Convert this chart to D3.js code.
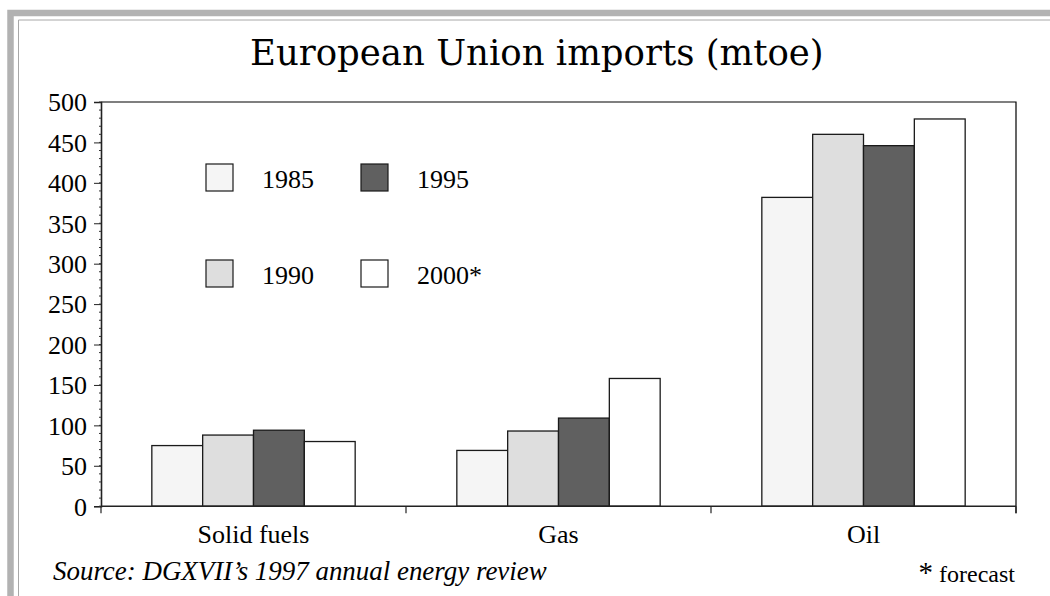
<!DOCTYPE html>
<html>
<head>
<meta charset="utf-8">
<script src="https://cdn.jsdelivr.net/npm/d3@7"></script>
<style>
    body { margin: 0; background: #fff; }
    svg { display: block; }
    text { fill: #000; }
</style>
</head>
<body>
<div id="chart"></div>
<script>
const categories = ["Solid fuels", "Gas", "Oil"];
const years = ["1985", "1990", "1995", "2000*"];
const values1985 = [75, 69, 382];
const values1990 = [88, 93, 460];
const values1995 = [94, 109, 446];
const values2000 = [80, 158, 479];
const yTicks = [0, 50, 100, 150, 200, 250, 300, 350, 400, 450, 500];

const series = [values1985, values1990, values1995, values2000];
const fills = ["#f5f5f5", "#dedede", "#606060", "#ffffff"];
const serif = '"Liberation Serif", "Times New Roman", serif';

const width = 1050;
const height = 596;
const margin = {top: 102, right: 34, bottom: 90, left: 101};

const svg = d3.select("#chart")
    .append("svg")
    .attr("width", width)
    .attr("height", height);

// grey page frame, open on the right and bottom
svg.append("path")
    .attr("d", `M10.5,${height} V13 H${width}`)
    .attr("fill", "none")
    .attr("stroke", "#b2b2b2")
    .attr("stroke-width", 6.5);
svg.append("path")
    .attr("d", `M18.5,${height} V20 H${width}`)
    .attr("fill", "none")
    .attr("stroke", "#a8a8a8")
    .attr("stroke-width", 1);

// shrink or grow a text until it spans the width seen in the reference
function fitWidth(sel, size, target) {
    const w = sel.node().getComputedTextLength();
    sel.style("font-size", (size * target / w) + "px");
}

const x0 = d3.scaleBand()
    .domain(categories)
    .range([margin.left, width - margin.right]);

const x1 = d3.scaleBand()
    .domain(years)
    .range([0, x0.bandwidth()])
    .paddingOuter(1);

const y = d3.scaleLinear()
    .domain([0, 500])
    .range([height - margin.bottom + 0.2, margin.top]);

const yMinor = d3.range(0, 501, 10);

// plot frame (top and right)
svg.append("path")
    .attr("d", `M${x0.range()[0]},${y(500)} H${x0.range()[1]} V${y(0) + 7}`)
    .attr("fill", "none")
    .attr("stroke", "#000")
    .attr("stroke-width", 1.2);

const yAxis = svg.append("g")
    .attr("transform", `translate(${margin.left},0)`)
    .call(d3.axisLeft(y).tickValues(yTicks).tickSize(7).tickPadding(7));
yAxis.select(".domain").attr("stroke", "#222").attr("stroke-width", 1.6);
yAxis.selectAll(".tick line").attr("stroke", "#222");
yAxis.selectAll(".tick text")
    .style("font-family", serif)
    .style("font-size", "26px")
    .attr("dy", "0.34em");

yAxis.selectAll(".minor")
    .data(yMinor)
    .enter()
    .append("line")
    .attr("class", "minor")
    .attr("x1", -2)
    .attr("x2", 0)
    .attr("y1", d => y(d))
    .attr("y2", d => y(d))
    .attr("stroke", "#333")
    .attr("stroke-width", 1);

const groups = svg.selectAll(".group")
    .data(categories)
    .enter()
    .append("g")
    .attr("class", "group")
    .attr("transform", d => `translate(${x0(d)},0)`);

groups.selectAll("rect")
    .data((c, i) => years.map((yr, j) => ({year: yr, value: series[j][i], k: j})))
    .enter()
    .append("rect")
    .attr("x", d => x1(d.year))
    .attr("y", d => y(d.value))
    .attr("width", x1.bandwidth())
    .attr("height", d => y(0) - y(d.value))
    .attr("fill", d => fills[d.k])
    .attr("stroke", "#1a1a1a")
    .attr("stroke-width", 1.3);

// x axis line and category boundary ticks
const xAxis = svg.append("g");
xAxis.append("line")
    .attr("x1", x0.range()[0])
    .attr("x2", x0.range()[1])
    .attr("y1", y(0))
    .attr("y2", y(0))
    .attr("stroke", "#222")
    .attr("stroke-width", 1.6);
xAxis.selectAll(".bound")
    .data(categories.map(c => x0(c)).concat([x0.range()[1]]))
    .enter()
    .append("line")
    .attr("class", "bound")
    .attr("x1", d => d)
    .attr("x2", d => d)
    .attr("y1", y(0))
    .attr("y2", y(0) + 7)
    .attr("stroke", "#222")
    .attr("stroke-width", 1.2);
xAxis.selectAll(".cat")
    .data(categories)
    .enter()
    .append("text")
    .attr("class", "cat")
    .attr("x", d => x0(d) + x0.bandwidth() / 2)
    .attr("y", 543)
    .attr("text-anchor", "middle")
    .style("font-family", serif)
    .style("font-size", "26px")
    .text(d => d);

// legend, two columns
const legend = svg.append("g");
const legendPos = [[206, 164], [206, 260], [361, 164], [361, 260]];
years.forEach((yr, i) => {
    const [lx, ly] = legendPos[i];
    legend.append("rect")
        .attr("x", lx)
        .attr("y", ly)
        .attr("width", 27)
        .attr("height", 27)
        .attr("fill", fills[i])
        .attr("stroke", "#1a1a1a")
        .attr("stroke-width", 1.2);
    legend.append("text")
        .attr("x", lx + 56)
        .attr("y", ly + 24)
        .style("font-family", serif)
        .style("font-size", "26px")
        .text(yr);
});

const title = svg.append("text")
    .attr("x", 250)
    .attr("y", 65)
    .style("font-family", '"DejaVu Serif", serif')
    .style("font-size", "34px")
    .text("European Union imports (mtoe)");
fitWidth(title, 34, 574);

const source = svg.append("text")
    .attr("x", 53)
    .attr("y", 580)
    .style("font-family", serif)
    .style("font-size", "25px")
    .style("font-style", "italic")
    .text("Source: DGXVII\u2019s 1997 annual energy review");
fitWidth(source, 25, 494);

const note = svg.append("text")
    .attr("x", 1015)
    .attr("y", 582)
    .attr("text-anchor", "end")
    .style("font-family", serif);
note.append("tspan")
    .style("font-size", "29px")
    .text("*");
note.append("tspan")
    .style("font-size", "24px")
    .text(" forecast");
</script>
</body>
</html>
